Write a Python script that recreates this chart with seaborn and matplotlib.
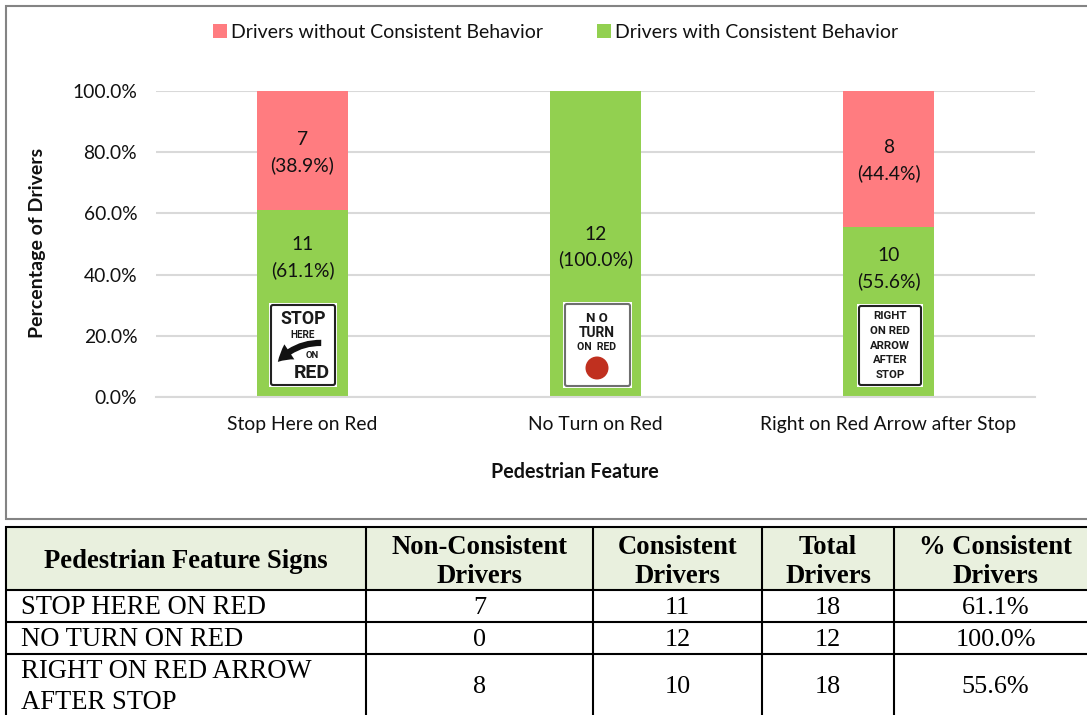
import pandas as pd
import seaborn as sns
import matplotlib
matplotlib.use("Agg")
import matplotlib.pyplot as plt
from matplotlib.patches import Rectangle, FancyBboxPatch, Circle, FancyArrowPatch

# chart values
features = ["Stop Here on Red", "No Turn on Red", "Right on Red Arrow after Stop"]
non_consistent_pct = [38.9, 0.0, 44.4]
consistent_pct = [61.1, 100.0, 55.6]
non_consistent_n = [7, 0, 8]
consistent_n = [11, 12, 10]
y_ticks = [0, 20, 40, 60, 80, 100]

# table values
table_header = ["Pedestrian Feature Signs", "Non-Consistent\nDrivers", "Consistent\nDrivers",
                "Total\nDrivers", "% Consistent\nDrivers"]
table_signs = ["STOP HERE ON RED", "NO TURN ON RED", "RIGHT ON RED ARROW\nAFTER STOP"]
table_totals = [18, 12, 18]
table_pct = ["61.1%", "100.0%", "55.6%"]

GREEN = "#92D050"
PINK = "#FF7C80"
GRID = "#D9D9D9"
W, H = 1087, 715
FS = 13.9

sns.set_theme(style="white")
plt.rcParams["font.family"] = ["Lato", "DejaVu Sans"]

fig = plt.figure(figsize=(W / 100, H / 100), dpi=100, facecolor="white")

# overlay in pixel coordinates for frame, signs and table
page = fig.add_axes([0, 0, 1, 1], zorder=3)
page.set_xlim(0, W)
page.set_ylim(H, 0)
page.axis("off")
page.patch.set_alpha(0)

# main plot
ax = fig.add_axes([156 / W, 1 - 397 / H, 879 / W, 306 / H], zorder=2)
df = pd.DataFrame({"feature": features, "consistent": consistent_pct, "non": non_consistent_pct})
sns.barplot(data=df, x="feature", y="consistent", color=GREEN, saturation=1, width=0.312, linewidth=0,
            label="Drivers with Consistent Behavior", ax=ax, zorder=2)
sns.barplot(data=df, x="feature", y="non", color=PINK, saturation=1, width=0.312, linewidth=0,
            bottom=df["consistent"].values, label="Drivers without Consistent Behavior", ax=ax, zorder=2)

ax.set_ylim(0, 100)
ax.set_xlim(-0.5, 2.5)
ax.set_yticks(y_ticks)
ax.set_yticklabels([f"{t:.1f}%" for t in y_ticks], fontsize=FS, color="#111111")
ax.tick_params(axis="y", length=0, pad=13.5)
ax.tick_params(axis="x", length=0, pad=14, labelsize=FS, labelcolor="#111111")
ax.yaxis.grid(True, color=GRID, linewidth=1.5, zorder=0)
ax.set_axisbelow(True)
for name, spine in ax.spines.items():
    spine.set_visible(name == "bottom")
ax.spines["bottom"].set_color(GRID)
ax.spines["bottom"].set_linewidth(1.5)
ax.set_xlabel("")
ax.set_ylabel("")

# bar labels
green_label_y = [45.7, 49.0, 42.0]
for i in range(3):
    ax.text(i, green_label_y[i], f"{consistent_n[i]}\n({consistent_pct[i]:.1f}%)", ha="center", va="center",
            fontsize=FS, color="#111111", linespacing=1.55, zorder=4)
    if non_consistent_n[i] > 0:
        mid = consistent_pct[i] + non_consistent_pct[i] / 2
        ax.text(i, mid - 0.6, f"{non_consistent_n[i]}\n({non_consistent_pct[i]:.1f}%)", ha="center", va="center",
                fontsize=FS, color="#111111", linespacing=1.55, zorder=4)

handles, labels = ax.get_legend_handles_labels()
ax.get_legend().remove()
leg = fig.legend(handles[::-1], labels[::-1], ncols=2, loc="center", bbox_to_anchor=(555.5 / W, 1 - 32.5 / H),
                 frameon=False, fontsize=14.0, handlelength=0.72, handleheight=0.72, handletextpad=0.2,
                 columnspacing=2.8, labelcolor="#111111")

page.text(575, 472, "Pedestrian Feature", ha="center", va="center", fontsize=14.2, fontweight="bold", color="#111111")
page.text(38, 243, "Percentage of Drivers", ha="center", va="center", rotation=90, fontsize=14.0,
          fontweight="bold", color="#111111")

# chart frame, open on the right
page.plot([W, 6, 6, W], [5.5, 5.5, 519, 519], color="#848484", lw=1.5, solid_joinstyle="miter")


def sign_box(x0, y0, x1, y1, edge="#222222"):
    page.add_patch(Rectangle((x0, y0), x1 - x0, y1 - y0, fc="white", ec="none", zorder=3))
    page.add_patch(FancyBboxPatch((x0 + 2, y0 + 2), x1 - x0 - 4, y1 - y0 - 4, boxstyle="round,pad=0,rounding_size=2",
                                  fc="white", ec=edge, lw=1.5, zorder=3))


def sign_text(x, y, s, size):
    page.text(x, y, s, ha="center", va="center", fontsize=size, fontweight="bold", color="#1a1a1a",
              family=["Roboto", "DejaVu Sans"], zorder=4)


# Stop Here on Red sign
sign_box(269, 303, 337, 387)
sign_text(303, 319, "STOP", 12.8)
sign_text(303, 335, "HERE", 7.2)
sign_text(312, 356, "ON", 6.8)
sign_text(312, 373, "RED", 14)
page.add_patch(FancyArrowPatch((324, 343), (276, 364), connectionstyle="arc3,rad=0.25",
                               arrowstyle="simple,head_width=13,head_length=11,tail_width=4.5",
                               fc="#111111", ec="#111111", lw=0, zorder=4))

# No Turn on Red sign
sign_box(563, 302, 632, 388, edge="#6f6f6f")
sign_text(597, 318, "N O", 9.5)
sign_text(597, 333, "TURN", 10)
sign_text(597, 347, "ON  RED", 7.6)
page.add_patch(Circle((597, 368), 11.5, fc="#C0301F", ec="none", zorder=4))

# Right on Red Arrow after Stop sign
sign_box(857, 304, 923, 387)
for y, s in zip([316, 331, 346, 360, 375], ["RIGHT", "ON RED", "ARROW", "AFTER", "STOP"]):
    sign_text(890, y, s, 8.2)

# table below the chart
col_x = [6, 366, 593, 762, 894, W + 5]
row_y = [527, 590, 622, 654, H + 5]
serif = ["Liberation Serif", "DejaVu Serif"]
page.add_patch(Rectangle((col_x[0], row_y[0]), W - col_x[0], row_y[1] - row_y[0], fc="#E9F0DE", ec="none", zorder=1))
for x in col_x[:-1]:
    page.plot([x, x], [row_y[0] - 1, H], color="black", lw=1.5, zorder=2, solid_capstyle="butt")
for y in row_y[:-1]:
    page.plot([col_x[0] - 1, W], [y, y], color="black", lw=1.5, zorder=2, solid_capstyle="butt")

col_mid = [(366 + 6) / 2, (366 + 593) / 2, (593 + 762) / 2, (762 + 894) / 2, (894 + 1097) / 2]
for j, head in enumerate(table_header):
    page.text(col_mid[j], 562, head, ha="center", va="center", fontsize=19.2, fontweight="bold",
              family=serif, color="black", linespacing=1.2)

row_mid = [608, 640, 687]
for i in range(3):
    page.text(21, row_mid[i], table_signs[i], ha="left", va="center", fontsize=19.2, family=serif, color="black",
              linespacing=1.32)
    cells = [non_consistent_n[i], consistent_n[i], table_totals[i], table_pct[i]]
    for j, val in enumerate(cells):
        page.text(col_mid[j + 1], row_mid[i], str(val), ha="center", va="center", fontsize=18.8, family=serif,
                  color="black")

fig.savefig("out.png", dpi=100)
